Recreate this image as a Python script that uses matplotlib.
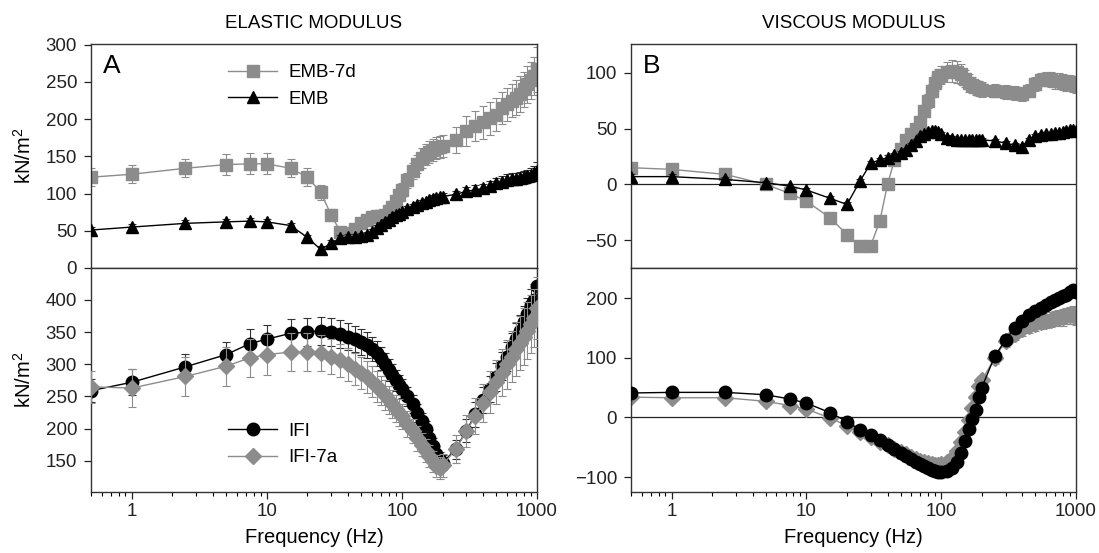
import matplotlib
matplotlib.use("Agg")
import matplotlib.pyplot as plt
from matplotlib.lines import Line2D
from matplotlib.ticker import LogLocator, NullFormatter

plt.rcParams['font.family'] = ['Liberation Sans', 'DejaVu Sans']
plt.rcParams['mathtext.fontset'] = 'custom'
plt.rcParams['mathtext.rm'] = 'Liberation Sans'
plt.rcParams['mathtext.it'] = 'Liberation Sans'
plt.rcParams['mathtext.default'] = 'regular'

freq = [0.5, 1, 2.5, 5, 7.5, 10, 15, 20, 25, 30, 35, 40, 45, 50, 55, 60, 65, 70, 75, 80,
        85, 90, 95, 100, 110, 120, 130, 140, 150, 160, 170, 180, 190, 200, 250, 300, 350, 400, 450, 500,
        550, 600, 650, 700, 750, 800, 850, 900, 950, 1000]

# Elastic modulus, panel A top
E_EMB7d = [122, 126, 134, 139, 140, 140, 134, 122, 102, 71, 49, 47, 53, 60, 64, 68, 70, 70, 71, 76,
           82, 90, 98, 105, 118, 130, 140, 148, 152, 156, 159, 161, 163, 164, 172, 184, 191, 196, 201, 206,
           215, 220, 225, 229, 234, 240, 247, 252, 258, 267]
E_EMB7d_err = [12, 12, 12, 14, 14, 14, 12, 12, 10, 8, 6, 6, 6, 6, 6, 6, 6, 6, 6, 7,
               8, 8, 8, 9, 10, 11, 12, 13, 14, 15, 15, 15, 15, 15, 18, 20, 20, 22, 22, 22,
               22, 22, 22, 24, 24, 24, 25, 25, 25, 30]
E_EMB = [51, 55, 60, 62, 63, 62, 57, 41, 25, 33, 40, 42, 42, 43, 44, 48, 54, 58, 62, 65,
         68, 71, 73, 75, 79, 82, 85, 87, 89, 91, 93, 94, 95, 96, 99, 103, 105, 107, 110, 114,
         116, 118, 119, 120, 121, 122, 123, 125, 127, 130]
E_EMB_err = [4, 4, 4, 4, 4, 4, 4, 4, 4, 4, 4, 4, 4, 4, 4, 4, 4, 4, 4, 4,
             4, 4, 4, 4, 4, 4, 4, 4, 4, 4, 5, 5, 5, 5, 5, 6, 6, 6, 7, 7,
             7, 8, 8, 8, 8, 9, 9, 9, 10, 12]

# Elastic modulus, panel A bottom
E_IFI = [259, 272, 296, 315, 332, 339, 348, 350, 352, 350, 347, 343, 339, 335, 330, 324, 317, 309, 300, 291,
         283, 275, 268, 262, 250, 238, 225, 212, 199, 186, 173, 161, 152, 147, 168, 197, 222, 245, 262, 280,
         297, 312, 327, 340, 352, 365, 378, 392, 400, 422]
E_IFI_err = [18, 20, 20, 20, 22, 22, 22, 22, 22, 22, 21, 21, 20, 20, 20, 19, 19, 18, 18, 17,
             17, 16, 16, 15, 15, 14, 14, 13, 13, 12, 12, 12, 12, 12, 15, 18, 20, 20, 20, 22,
             22, 22, 22, 24, 24, 25, 25, 25, 25, 28]
E_IFI7a = [265, 263, 281, 297, 310, 315, 319, 319, 317, 312, 306, 300, 293, 287, 280, 273, 266, 259, 252, 245,
           238, 231, 225, 219, 207, 196, 185, 175, 166, 157, 149, 142, 139, 143, 168, 196, 220, 240, 257, 272,
           287, 300, 312, 323, 333, 343, 352, 362, 372, 388]
E_IFI7a_err = [25, 30, 30, 30, 30, 32, 30, 30, 28, 27, 26, 26, 25, 25, 25, 24, 24, 23, 23, 22,
               22, 21, 21, 20, 20, 19, 19, 18, 18, 17, 17, 17, 17, 18, 22, 25, 28, 30, 32, 34,
               36, 38, 40, 42, 42, 44, 44, 45, 45, 48]

# Viscous modulus, panel B top
V_EMB7d = [15, 13.5, 9, 0, -8, -15, -30, -45, -55, -55, -33, 0, 22, 32, 40, 45, 50, 56, 66, 75,
           84, 91, 96, 98, 101, 102, 101, 99, 95, 91, 89, 87, 86, 85, 84, 83, 82, 81, 84, 90,
           94, 95, 94, 93, 93, 92, 91, 91, 90, 89]
V_EMB7d_err = [4, 4, 3, 3, 3, 3, 3, 3, 3, 3, 3, 3, 3, 3, 4, 4, 4, 5, 5, 6,
               6, 7, 8, 8, 9, 10, 10, 9, 8, 8, 7, 7, 7, 7, 6, 6, 6, 6, 6, 6,
               6, 6, 7, 7, 7, 7, 7, 7, 7, 7]
V_EMB = [7, 7, 4.5, 1.5, -1.5, -5, -12.5, -18, 3, 19, 22, 24, 26, 28, 31, 35, 39, 43, 45, 47,
         48, 48, 47, 45, 42, 41, 40, 40, 40, 40, 40, 40, 40, 40, 39, 37, 35, 34, 40, 43,
         44, 45, 45, 46, 46, 47, 48, 49, 49, 48]
V_EMB_err = [2, 2, 2, 2, 2, 2, 2, 2, 2, 2, 2, 2, 2, 2, 2, 2, 2, 2, 2, 2,
             2, 2, 2, 2, 2, 2, 2, 2, 2, 2, 2, 2, 2, 2, 2, 2, 2, 2, 2, 2,
             2, 2, 2, 2, 2, 2, 2, 2, 2, 2]

# Viscous modulus, panel B bottom
V_IFI = [41, 42, 42, 38, 31, 24, 8, -7, -21, -29, -38, -46, -53, -59, -65, -70, -74, -78, -82, -85,
         -88, -90, -91, -91, -89, -84, -74, -60, -40, -20, -3, 12, 35, 50, 103, 130, 150, 162, 171, 178,
         184, 189, 193, 197, 200, 203, 206, 210, 213, 211]
V_IFI_err = [3, 3, 3, 3, 3, 3, 3, 3, 3, 3, 3, 3, 3, 3, 3, 3, 3, 3, 3, 3,
             3, 3, 3, 3, 3, 3, 3, 3, 4, 4, 4, 4, 4, 5, 5, 6, 6, 6, 6, 6,
             6, 7, 7, 7, 7, 8, 8, 8, 8, 8]
V_IFI7a = [34, 33, 33, 27, 20, 14, -1, -14, -25, -32, -41, -47, -53, -58, -62, -66, -70, -73, -75, -77,
           -78, -79, -79, -78, -75, -68, -57, -42, -25, -5, 15, 35, 52, 62, 100, 128, 140, 148, 153, 157,
           160, 162, 164, 166, 167, 168, 170, 171, 172, 170]
V_IFI7a_err = [3, 3, 3, 3, 3, 3, 3, 3, 3, 3, 3, 3, 3, 3, 3, 3, 3, 3, 3, 3,
               3, 3, 3, 3, 4, 4, 5, 5, 6, 6, 7, 8, 8, 8, 10, 10, 10, 11, 11, 12,
               12, 12, 13, 13, 13, 14, 14, 14, 15, 15]

GRAY = '#8c8c8c'
BLACK = '#000000'

W, H = 1099, 553
fig = plt.figure(figsize=(W / 100, H / 100), dpi=100)


def rect(x0, x1, y0, y1):
    return [x0 / W, 1 - y1 / H, (x1 - x0) / W, (y1 - y0) / H]


axA1 = fig.add_axes(rect(91, 537, 44, 268))
axA2 = fig.add_axes(rect(91, 537, 268, 492))
axB1 = fig.add_axes(rect(631, 1076, 44, 268))
axB2 = fig.add_axes(rect(631, 1076, 268, 492))


def series(ax, y, err, color, marker, ms, z, ecolor):
    ax.errorbar(freq, y, yerr=err, color=color, marker=marker, ms=ms, mec=color, mfc=color,
                lw=1.0, elinewidth=0.8, ecolor=ecolor, capsize=3, capthick=0.8, zorder=z)


series(axA1, E_EMB7d, E_EMB7d_err, GRAY, 's', 8, 2, GRAY)
series(axA1, E_EMB, E_EMB_err, BLACK, '^', 9, 3, '#333333')
series(axA2, E_IFI, E_IFI_err, BLACK, 'o', 9, 2, '#333333')
series(axA2, E_IFI7a, E_IFI7a_err, GRAY, 'D', 8, 3, GRAY)
series(axB1, V_EMB7d, V_EMB7d_err, GRAY, 's', 8, 2, GRAY)
series(axB1, V_EMB, V_EMB_err, BLACK, '^', 9, 3, '#333333')
series(axB2, V_IFI7a, V_IFI7a_err, GRAY, 'D', 8, 2, GRAY)
series(axB2, V_IFI, V_IFI_err, BLACK, 'o', 9, 3, '#333333')

axA1.set_ylim(0, 301)
axA1.set_yticks([0, 50, 100, 150, 200, 250, 300])
axA2.set_ylim(101.6, 449.5)
axA2.set_yticks([150, 200, 250, 300, 350, 400])
axB1.set_ylim(-75, 126)
axB1.set_yticks([-50, 0, 50, 100])
axB2.set_ylim(-125, 250.5)
axB2.set_yticks([-100, 0, 100, 200])

for ax in (axB1, axB2):
    ax.axhline(0, color='#222222', lw=0.9, zorder=1)

for ax in (axA1, axA2, axB1, axB2):
    ax.set_xscale('log')
    ax.set_xlim(0.5, 1000)
    for sp in ax.spines.values():
        sp.set_color('#333333')
        sp.set_linewidth(1.0)
    ax.tick_params(axis='y', direction='out', length=5, width=0.9, labelsize=13.5, pad=5,
                   colors='#222222')
    ax.xaxis.set_minor_locator(LogLocator(base=10, subs=(2, 3, 4, 5, 6, 7, 8, 9), numticks=20))
    ax.xaxis.set_minor_formatter(NullFormatter())

for ax in (axA1, axB1):
    ax.tick_params(axis='x', which='both', bottom=False, labelbottom=False)

for ax in (axA2, axB2):
    ax.set_xticks([1, 10, 100, 1000], labels=['1', '10', '100', '1000'])
    ax.tick_params(axis='x', which='major', direction='out', length=5, width=0.9, labelsize=13.5,
                   pad=3, colors='#222222')
    ax.tick_params(axis='x', which='minor', direction='out', length=3, width=0.8)
    ax.set_xlabel('Frequency (Hz)', fontsize=14.5)
    ax.xaxis.set_label_coords(0.5, -0.16)

for ax in (axA1, axA2):
    ax.set_ylabel('kN/m$^2$', fontsize=14.5)
    ax.yaxis.set_label_coords(-0.125, 0.5)

axA1.text(0.027, 0.955, 'A', transform=axA1.transAxes, fontsize=19, va='top', ha='left')
axB1.text(0.027, 0.955, 'B', transform=axB1.transAxes, fontsize=19, va='top', ha='left')

fig.text((91 + 537) / 2 / W, 1 - 24 / H, 'ELASTIC MODULUS', ha='center', va='center', fontsize=13.5)
fig.text((631 + 1076) / 2 / W, 1 - 24 / H, 'VISCOUS MODULUS', ha='center', va='center', fontsize=13.5)

hA1 = [Line2D([], [], color=GRAY, marker='s', ms=8, lw=1.0),
       Line2D([], [], color=BLACK, marker='^', ms=9, lw=1.0)]
axA1.legend(hA1, ['EMB-7d', 'EMB'], loc='upper left', bbox_to_anchor=(0.27, 0.985), frameon=False,
            fontsize=13.5, handlelength=2.6, labelspacing=0.5, handletextpad=0.6)
hA2 = [Line2D([], [], color=BLACK, marker='o', ms=9, lw=1.0),
       Line2D([], [], color=GRAY, marker='D', ms=8, lw=1.0)]
axA2.legend(hA2, ['IFI', 'IFI-7a'], loc='upper left', bbox_to_anchor=(0.27, 0.385), frameon=False,
            fontsize=13.5, handlelength=2.6, labelspacing=0.5, handletextpad=0.6)

fig.savefig('out.png', dpi=100)
